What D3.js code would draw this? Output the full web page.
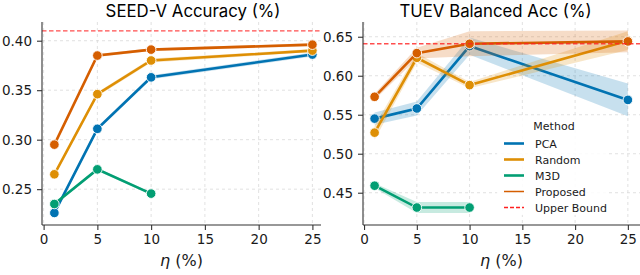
<!DOCTYPE html>
<html>
<head>
<meta charset="utf-8">
<script src="https://cdn.jsdelivr.net/npm/d3@7"></script>
<style>
  body { margin: 0; background: #fff; }
  svg { display: block; }
  text { font-family: "DejaVu Sans", sans-serif; fill: #1a1a1a; }
  .title { font-family: Inter, "DejaVu Sans", sans-serif; font-size: 16.8px; font-weight: 400; fill: #000; }
  .grid line { stroke: #d9d9d9; stroke-dasharray: 3,3; stroke-width: 0.8; }
</style>
</head>
<body>
<svg id="chart" width="640" height="275"></svg>
<script>
// ---- data ----
const etas = [1, 5, 10, 25];
const etasM3D = [1, 5, 10];
const methods = ['PCA', 'Random', 'M3D', 'Proposed'];
const colors = ['#0173b2', '#de8f05', '#029e73', '#d55e00'];

const seedPCA      = [0.226, 0.311, 0.363, 0.386];
const seedRandom   = [0.265, 0.346, 0.380, 0.390];
const seedM3D      = [0.235, 0.270, 0.2455];
const seedProposed = [0.295, 0.385, 0.391, 0.396];
const seedErr      = [[0.002, 0.002, 0.002, 0.002], [0.0015, 0.002, 0.002, 0.0015],
                      [0.0015, 0.0015, 0.0015], [0.0015, 0.0015, 0.0015, 0.0015]];
const seedUpper = 0.41;

const tuevPCA      = [0.545, 0.558, 0.638, 0.569];
const tuevRandom   = [0.527, 0.623, 0.588, 0.645];
const tuevM3D      = [0.459, 0.431, 0.431];
const tuevProposed = [0.573, 0.629, 0.641, 0.644];
const tuevErr      = [[0.008, 0.009, 0.011, 0.021], [0.009, 0.006, 0.004, 0.012],
                      [0.003, 0.007, 0.007], [0.004, 0.007, 0.016, 0.014]];
const tuevUpper = 0.641;

const xTicks = [0, 5, 10, 15, 20, 25];
const seedTicks = [0.25, 0.30, 0.35, 0.40];
const tuevTicks = [0.45, 0.50, 0.55, 0.60, 0.65];

const panels = [
  { title: 'SEED-V Accuracy (%)', titleX: 193, x0: 42, x1: 321, xDom: [-0.15, 25.8],
    yDom: [0.2138, 0.4189], yTicks: seedTicks,
    series: [seedPCA, seedRandom, seedM3D, seedProposed], err: seedErr, upper: seedUpper },
  { title: 'TUEV Balanced Acc (%)', titleX: 495.5, x0: 363, x1: 640, xDom: [-0.1, 26.15],
    yDom: [0.4086, 0.6689], yTicks: tuevTicks,
    series: [tuevPCA, tuevRandom, tuevM3D, tuevProposed], err: tuevErr, upper: tuevUpper, legend: true }
];

const svg = d3.select('#chart');
const plotTop = 22, plotBottom = 225;

panels.forEach(p => {
  const x = d3.scaleLinear().domain(p.xDom).range([p.x0, p.x1]);
  const y = d3.scaleLinear().domain(p.yDom).range([plotBottom, plotTop]);
  const g = svg.append('g');

  // grid
  const grid = g.append('g').attr('class', 'grid');
  grid.selectAll('.vx').data(xTicks).join('line')
    .attr('x1', d => x(d)).attr('x2', d => x(d)).attr('y1', plotTop).attr('y2', plotBottom);
  grid.selectAll('.hy').data(p.yTicks).join('line')
    .attr('x1', p.x0).attr('x2', p.x1).attr('y1', d => y(d)).attr('y2', d => y(d));

  // bands, lines and markers per method
  p.series.forEach((vals, i) => {
    const xs = vals.length === 3 ? etasM3D : etas;
    const pts = vals.map((v, j) => ({ x: xs[j], y: v, e: p.err[i][j] }));
    g.append('path').datum(pts)
      .attr('fill', colors[i]).attr('fill-opacity', 0.22)
      .attr('d', d3.area().x(d => x(d.x)).y0(d => y(d.y - d.e)).y1(d => y(d.y + d.e)));
    g.append('path').datum(pts)
      .attr('fill', 'none').attr('stroke', colors[i]).attr('stroke-width', 2.6)
      .attr('d', d3.line().x(d => x(d.x)).y(d => y(d.y)));
    g.selectAll(null).data(pts).join('circle')
      .attr('cx', d => x(d.x)).attr('cy', d => y(d.y)).attr('r', 4.8)
      .attr('fill', colors[i]).attr('stroke', '#fff').attr('stroke-width', 0.9);
  });

  // upper bound
  g.append('line')
    .attr('x1', p.x0).attr('x2', p.x1).attr('y1', y(p.upper)).attr('y2', y(p.upper))
    .attr('stroke', '#ff2020').attr('stroke-opacity', 0.8)
    .attr('stroke-width', 1.3).attr('stroke-dasharray', '4.5,2.5');

  // axes
  const xa = g.append('g').attr('transform', `translate(0,${plotBottom})`)
    .call(d3.axisBottom(x).tickValues(xTicks).tickSize(5).tickPadding(4));
  xa.select('.domain').attr('d', `M${p.x0},0H${p.x1}`);
  const ya = g.append('g').attr('transform', `translate(${p.x0},0)`)
    .call(d3.axisLeft(y).tickValues(p.yTicks).tickFormat(d3.format('.2f')).tickSize(5).tickPadding(5));
  ya.select('.domain').attr('d', `M0,${plotTop}V${plotBottom}`);
  g.selectAll('.tick text').style('font-size', '13.5px').attr('fill', '#1a1a1a');
  g.selectAll('.domain, .tick line').attr('stroke', '#333').attr('stroke-width', 1.1);

  g.append('text').attr('class', 'title')
    .attr('x', p.titleX).attr('y', 16.5).attr('text-anchor', 'middle').text(p.title);

  const xl = g.append('text').attr('x', (p.x0 + p.x1) / 2).attr('y', 266)
    .attr('text-anchor', 'middle').style('font-size', '16px');
  xl.append('tspan').style('font-style', 'italic').text('η');
  xl.append('tspan').text(' (%)');

  if (p.legend) {
    const lg = g.append('g').attr('transform', 'translate(497,116)');
    lg.append('rect').attr('width', 111).attr('height', 99).attr('fill', '#fff').attr('fill-opacity', 0.85);
    lg.append('text').attr('x', 57).attr('y', 14).attr('text-anchor', 'middle')
      .style('font-size', '11px').text('Method');
    const items = methods.map((m, i) => ({ label: m, color: colors[i], w: m === 'Proposed' ? 1.5 : 2.6 }))
      .concat([{ label: 'Upper Bound', color: '#ff2020', w: 1.3, dash: '4,2' }]);
    items.forEach((it, i) => {
      const yy = 27.5 + i * 16;
      lg.append('line').attr('x1', 7).attr('x2', 27).attr('y1', yy).attr('y2', yy)
        .attr('stroke', it.color).attr('stroke-width', it.w)
        .attr('stroke-dasharray', it.dash || null);
      lg.append('text').attr('x', 38).attr('y', yy + 4).style('font-size', '11px').text(it.label);
    });
  }
});
</script>
</body>
</html>
